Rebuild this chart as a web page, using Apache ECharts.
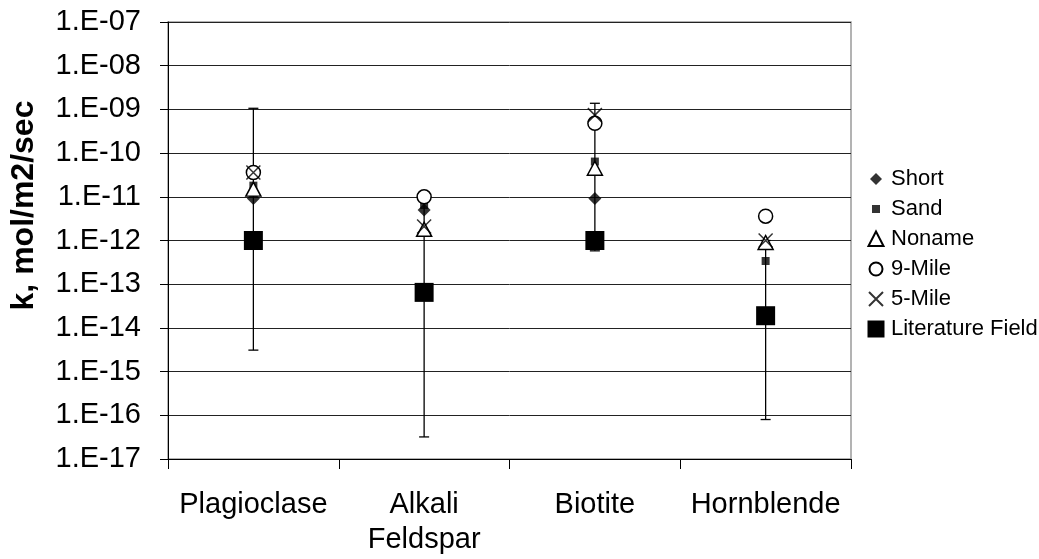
<!DOCTYPE html>
<html>
<head>
<meta charset="utf-8">
<script src="https://cdn.jsdelivr.net/npm/echarts@6/dist/echarts.min.js"></script>
<style>
  html, body { margin: 0; padding: 0; background: #fff; }
  #chart { width: 1039px; height: 559px; }
</style>
</head>
<body>
<div id="chart"></div>
<script>
// Dissolution rate constants by mineral (mol/m2/sec)
const categories = ['Plagioclase', 'Alkali\nFeldspar', 'Biotite', 'Hornblende'];
const shortVals   = [9.2e-12, 5.0e-12, 9.2e-12, null];
const sandVals    = [1.8e-11, 6.5e-12, 6.4e-11, 3.4e-13];
const nonameVals  = [1.5e-11, 1.8e-12, 4.5e-11, 9.0e-13];
const nineMile    = [3.6e-11, 1.0e-11, 4.8e-10, 3.6e-12];
const fiveMile    = [3.6e-11, 2.1e-12, 7.4e-10, 1.0e-12];
const literature  = [1.0e-12, 6.5e-14, 1.0e-12, 1.9e-14];
// range of literature field rates (error bars)
const litLow      = [3.1e-15, 3.2e-17, 5.8e-13, 8.0e-17];
const litHigh     = [1.06e-9, 1.3e-11, 1.38e-9, 1.0e-12];
const yMin = 1e-17, yMax = 1e-7;

const FONT = "'Liberation Sans', Arial, sans-serif";

// legend icons drawn in a 20x20 frame (corner moves keep the frame size)
const FRAME = 'M0 0 M20 20 ';
const icons = {
  Short: 'path://' + FRAME + 'M10 4 L16 10 L10 16 L4 10 Z',
  Sand: 'path://' + FRAME + 'M6 6 L14 6 L14 14 L6 14 Z',
  Noname: 'path://' + FRAME + 'M10 2.5 L17.5 17 L2.5 17 Z',
  '9-Mile': 'path://' + FRAME + 'M3.5 10 A6.5 6.5 0 1 1 16.5 10 A6.5 6.5 0 1 1 3.5 10 Z',
  '5-Mile': 'path://' + FRAME + 'M3 3 L17 17 M17 3 L3 17',
  'Literature Field': 'path://' + FRAME + 'M1.5 1.5 L18.5 1.5 L18.5 18.5 L1.5 18.5 Z'
};
const crossSymbol = 'path://M0 0 L10 10 M10 0 L0 10';

function pts(vals) {
  return vals.map((v, i) => (v == null ? [i, '-'] : [i, v]));
}

function fmtExp(v) {
  const e = Math.round(Math.log10(v));
  const a = Math.abs(e);
  return '1.E' + (e < 0 ? '-' : '+') + (a < 10 ? '0' + a : '' + a);
}

const chart = echarts.init(document.getElementById('chart'));
chart.setOption({
  animation: false,
  backgroundColor: '#fff',
  textStyle: { fontFamily: FONT },
  grid: {
    left: 168, right: 188, top: 22, bottom: 100,
    show: true, borderColor: '#9a9a9a', borderWidth: 1.5, backgroundColor: '#fff'
  },
  legend: {
    orient: 'vertical',
    left: 860, top: 163,
    itemWidth: 20, itemHeight: 20, itemGap: 8,
    textStyle: { fontSize: 22, color: '#000', fontFamily: FONT },
    data: Object.keys(icons).map(n => ({ name: n, icon: icons[n] }))
  },
  xAxis: {
    type: 'category',
    data: categories,
    boundaryGap: true,
    axisLine: { lineStyle: { color: '#000', width: 1 } },
    axisTick: { show: true, interval: 0, length: 10, lineStyle: { color: '#000' } },
    axisLabel: {
      interval: 0, hideOverlap: false,
      fontSize: 29, color: '#000', margin: 28, lineHeight: 35, fontFamily: FONT
    },
    splitLine: { show: false }
  },
  yAxis: {
    type: 'log',
    logBase: 10,
    min: yMin, max: yMax,
    interval: 1,
    splitNumber: 10,
    name: 'k, mol/m2/sec',
    nameLocation: 'middle',
    nameGap: 128,
    nameTextStyle: {
      fontSize: 32, fontWeight: 'bold', color: '#000', fontFamily: FONT,
      padding: [0, 0, 0, 70]
    },
    axisLine: { show: true, lineStyle: { color: '#000', width: 1 } },
    axisTick: { show: true, length: 8, lineStyle: { color: '#000' } },
    axisLabel: { fontSize: 29, color: '#000', margin: 27, formatter: fmtExp, fontFamily: FONT },
    splitLine: { show: true, lineStyle: { color: '#222', width: 1 } },
    minorTick: { show: false }
  },
  series: [
    {
      name: 'Literature Field range',
      type: 'custom',
      z: 1,
      data: litLow.map((lo, i) => [i, lo, litHigh[i]]),
      encode: { x: 0, y: [1, 2] },
      renderItem: function (params, api) {
        const i = api.value(0);
        const a = api.coord([i, api.value(1)]);
        const b = api.coord([i, api.value(2)]);
        const cap = 5;
        const st = { stroke: '#000', lineWidth: 1.3 };
        return {
          type: 'group',
          children: [
            { type: 'line', shape: { x1: a[0], y1: a[1], x2: b[0], y2: b[1] }, style: st },
            { type: 'line', shape: { x1: a[0] - cap, y1: a[1], x2: a[0] + cap, y2: a[1] }, style: st },
            { type: 'line', shape: { x1: b[0] - cap, y1: b[1], x2: b[0] + cap, y2: b[1] }, style: st }
          ]
        };
      }
    },
    {
      name: 'Short', type: 'scatter', z: 2,
      symbol: 'diamond', symbolSize: 13,
      itemStyle: { color: '#000' },
      data: pts(shortVals)
    },
    {
      name: 'Sand', type: 'scatter', z: 3,
      symbol: 'rect', symbolSize: 8,
      itemStyle: { color: '#000' },
      data: pts(sandVals)
    },
    {
      name: 'Noname', type: 'scatter', z: 4,
      symbol: 'triangle', symbolSize: [15, 14],
      itemStyle: { color: '#fff', borderColor: '#000', borderWidth: 1.5, opacity: 1 },
      data: pts(nonameVals)
    },
    {
      name: '9-Mile', type: 'scatter', z: 5,
      symbol: 'circle', symbolSize: 14,
      itemStyle: { color: '#fff', borderColor: '#000', borderWidth: 1.5, opacity: 1 },
      data: pts(nineMile)
    },
    {
      name: '5-Mile', type: 'scatter', z: 6,
      symbol: crossSymbol, symbolSize: 14,
      itemStyle: { color: '#000', borderColor: '#000', borderWidth: 1.5 },
      data: pts(fiveMile)
    },
    {
      name: 'Literature Field', type: 'scatter', z: 7,
      symbol: 'rect', symbolSize: 19,
      itemStyle: { color: '#000', opacity: 1 },
      data: pts(literature)
    }
  ]
});
</script>
</body>
</html>
